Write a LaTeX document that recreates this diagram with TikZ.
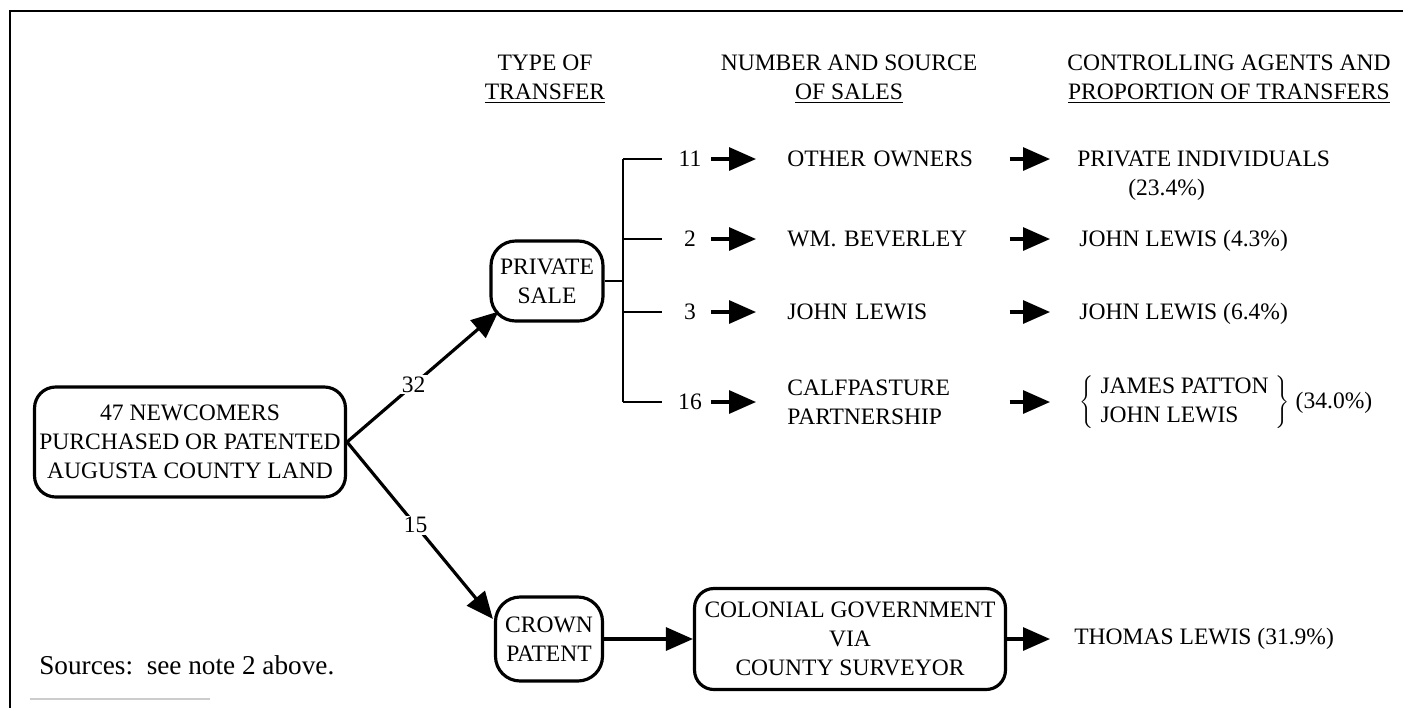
\documentclass[tikz,border=0pt]{standalone}
\usepackage{fontspec}
\setmainfont{Liberation Serif}
\usetikzlibrary{arrows.meta}

\begin{document}
\begin{tikzpicture}[x=0.02cm,y=-0.02cm,
  box/.style={draw,line width=1.8pt,align=center,inner sep=1pt},
  txt/.style={anchor=west,inner sep=0pt,align=left},
  num/.style={inner sep=0pt,minimum width=0.6cm},
  flow/.style={-{Triangle[length=0.54cm,width=0.46cm]},line width=1.8pt},
  tick/.style={line width=1.5pt}]
  \fontsize{13.4}{16.5}\selectfont % affects text nodes in this picture
  \useasboundingbox (0,0) rectangle (1403,708) ;
  % frame
  \draw[line width=1.3pt] (1403,11) -- (10,11) -- (10,708) ;
  \draw[gray!40,line width=1pt] (30,699) -- (210,699) ;
  % headings
  \node[align=center] (hdtype) at (545,79) {TYPE OF\\\underline{TRANSFER}} ;
  \node[align=center] (hdnum) at (849,79) {NUMBER AND SOURCE\\\underline{OF SALES}} ;
  \node[align=center] (hdagt) at (1229,79)
  {CONTROLLING AGENTS AND\\\underline{PROPORTION OF TRANSFERS}} ;
  % boxes
  \node[box,rounded corners=12pt,minimum width=6.22cm,minimum height=2.2cm]
  (newcomers) at (190,442) {47 NEWCOMERS\\PURCHASED OR PATENTED\\AUGUSTA
  COUNTY LAND} ; \node[box,rounded corners=14pt,minimum width=2.24cm,
  minimum height=1.6cm] (private) at (547,281) {PRIVATE\\SALE} ;
  \node[box,rounded corners=14pt,minimum width=2.14cm,minimum
  height=1.68cm] (crown) at (549,639) {CROWN\\PATENT} ;
  \node[box,rounded corners=11pt,minimum width=6.22cm,minimum
  height=2.02cm] (colonial) at (850,639) {COLONIAL GOVERNMENT\\VIA\\COUNTY
  SURVEYOR} ;
  % split of the newcomers
  \draw[flow] (newcomers.east) -- node[fill=white,inner sep=1pt,pos=0.44]
  {32} ([shift={(9,-11)}]private.south west) ; \draw[flow]
  (newcomers.east) -- node[fill=white,inner sep=1pt,pos=0.47] {15}
  ([shift={(-1,-20)}]crown.west) ;
  % bracket of private sales
  \coordinate (fork) at (623,281) ; \coordinate (t11) at (623,159) ;
  \coordinate (t2) at (623,239) ; \coordinate (t3) at (623,312) ;
  \coordinate (t16) at (623,402) ; \draw[tick] (private) -- (fork) ;
  \draw[tick] (t11) -- (t16) ;
  \node[num] (num11) at (690,159) {11} ; \node[num] (num2) at (690,239)
  {2} ; \node[num] (num3) at (690,312) {3} ; \node[num] (num16) at
  (690,402) {16} ;
  \draw[tick,shorten >=0.26cm] (t11) -- (num11) ; \draw[tick,shorten
  >=0.26cm] (t2) -- (num2) ; \draw[tick,shorten >=0.26cm] (t3) -- (num3)
  ; \draw[tick,shorten >=0.26cm] (t16) -- (num16) ;
  % sources of sales
  \node[txt,text width=4cm] (src11) at (787,159) {OTHER OWNERS} ;
  \node[txt,text width=4cm] (src2) at (787,239) {WM. BEVERLEY} ;
  \node[txt,text width=4cm] (src3) at (787,312) {JOHN LEWIS} ;
  \node[txt,text width=4cm] (src16) at (787,402) {CALFPASTURE\\PARTNERSHIP} ;
  \draw[flow,shorten <=0.12cm,shorten >=0.62cm] (num11.east) -- (src11.west) ;
  \draw[flow,shorten <=0.12cm,shorten >=0.62cm] (num2.east) -- (src2.west) ;
  \draw[flow,shorten <=0.12cm,shorten >=0.62cm] (num3.east) -- (src3.west) ;
  \draw[flow,shorten <=0.12cm,shorten >=0.62cm] (num16.east) -- (src16.west) ;
  % controlling agents
  \node[txt] (agt11) at (1077,159) {PRIVATE INDIVIDUALS} ; \node[txt]
  (pct11) at (1128,190) {(23.4\%)} ;
  \node[txt] (agt2) at (1079,241) {JOHN LEWIS (4.3\%)} ;
  \node[txt] (agt3) at (1079,314) {JOHN LEWIS (6.4\%)} ;
  \node[txt] (agt16) at (1079,402) {$\left\{\;\begin{tabular}{@{}l@{}}JAMES
  PATTON\\JOHN LEWIS\end{tabular}\;\right\}$\ (34.0\%)} ;
  \node[txt] (agtcrown) at (1074,639) {THOMAS LEWIS (31.9\%)} ;
  \draw[flow,shorten <=0.44cm,shorten >=0.54cm] (src11.east) -- (agt11.west) ;
  \draw[flow,shorten <=0.44cm,shorten >=0.58cm] (src2.east) -- (src2.east -| agt2.west) ;
  \draw[flow,shorten <=0.44cm,shorten >=0.58cm] (src3.east) -- (src3.east -| agt3.west) ;
  \draw[flow,shorten <=0.44cm,shorten >=0.58cm] (src16.east) -- (agt16.west) ;
  % crown patents
  \draw[flow] (crown) -- (colonial) ; \draw[flow,shorten >=0.48cm]
  (colonial) -- (agtcrown) ;
  % note
  \node[txt,font=\fontsize{15.5}{18}\selectfont] (note) at (39,665)
  {Sources:\ \ see note 2 above.} ;
\end{tikzpicture}
\end{document}
